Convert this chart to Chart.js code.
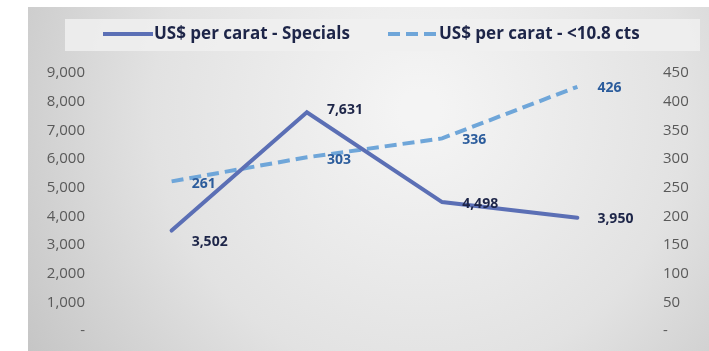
<!DOCTYPE html>
<html>
<head>
<meta charset="utf-8">
<script src="https://cdn.jsdelivr.net/npm/chart.js@4.4.1/dist/chart.umd.min.js"></script>
<style>
html,body{margin:0;padding:0;background:#ffffff;}
#wrap{width:709px;height:351px;position:relative;}
</style>
</head>
<body>
<div id="wrap"><canvas id="c" width="709" height="351"></canvas></div>
<script>
const categories = ["1", "2", "3", "4"];
const specialsValues = [3502, 7631, 4498, 3950];
const smallValues = [261, 303, 336, 426];
const leftTicks = [0, 1000, 2000, 3000, 4000, 5000, 6000, 7000, 8000, 9000];
const rightTicks = [0, 50, 100, 150, 200, 250, 300, 350, 400, 450];
const seriesNames = ["US$ per carat - Specials", "US$ per carat - <10.8 cts"];

const fmt = v => v === 0 ? "-" : v.toLocaleString("en-US");

const bgPlugin = {
  id: "bg",
  beforeDraw(chart) {
    const ctx = chart.ctx;
    ctx.save();
    const g = ctx.createRadialGradient(420, 110, 20, 420, 110, 470);
    g.addColorStop(0, "#f4f4f4");
    g.addColorStop(0.55, "#e2e2e2");
    g.addColorStop(1, "#c4c4c4");
    ctx.fillStyle = g;
    ctx.fillRect(28, 7, 681, 344);
    ctx.fillStyle = "rgba(240,240,240,0.85)";
    ctx.fillRect(65, 19, 635, 32);
    ctx.restore();
  },
  afterDraw(chart) {
    const ctx = chart.ctx;
    ctx.save();
    const items = [
      {x: 103, text: seriesNames[0], color: "#5b6fb5", dash: []},
      {x: 388, text: seriesNames[1], color: "#6fa6d9", dash: [12, 6]}
    ];
    ctx.font = "bold 17px 'Open Sans', sans-serif";
    ctx.textBaseline = "middle";
    items.forEach(it => {
      ctx.strokeStyle = it.color;
      ctx.lineWidth = 4;
      ctx.setLineDash(it.dash);
      ctx.beginPath();
      ctx.moveTo(it.x, 34);
      ctx.lineTo(it.x + 50, 34);
      ctx.stroke();
      ctx.setLineDash([]);
      ctx.fillStyle = "#1d2548";
      ctx.textAlign = "left";
      ctx.fillText(it.text, it.x + 51, 34);
    });
    const cfgs = [
      {idx: 0, color: "#1d2548", offs: [11, -2, 2, 1]},
      {idx: 1, color: "#2b5c9c", offs: [3, 3, 2, 1]}
    ];
    ctx.font = "bold 14px 'Open Sans', sans-serif";
    cfgs.forEach(c => {
      const meta = chart.getDatasetMeta(c.idx);
      const data = chart.data.datasets[c.idx].data;
      meta.data.forEach((pt, i) => {
        ctx.fillStyle = c.color;
        ctx.textAlign = "left";
        ctx.textBaseline = "middle";
        ctx.fillText(fmt(data[i]), pt.x + 20, pt.y + c.offs[i]);
      });
    });
    ctx.restore();
  }
};

new Chart(document.getElementById("c"), {
  type: "line",
  data: {
    labels: categories,
    datasets: [
      {
        label: seriesNames[0],
        data: specialsValues,
        yAxisID: "y",
        borderColor: "#5b6fb5",
        backgroundColor: "#5b6fb5",
        borderWidth: 4,
        pointRadius: 0,
        tension: 0,
        borderCapStyle: "round",
        order: 1
      },
      {
        label: seriesNames[1],
        data: smallValues,
        yAxisID: "y1",
        borderColor: "#6fa6d9",
        backgroundColor: "#6fa6d9",
        borderWidth: 4,
        borderDash: [12, 6],
        pointRadius: 0,
        tension: 0,
        order: 2
      }
    ]
  },
  options: {
    responsive: false,
    animation: false,
    devicePixelRatio: 1,
    layout: {padding: {top: 73, bottom: 20, left: 0, right: 0}},
    plugins: {legend: {display: false}, tooltip: {enabled: false}},
    scales: {
      x: {
        display: false,
        offset: true,
        grid: {display: false}
      },
      y: {
        position: "left",
        min: 0, max: 9000,
        afterBuildTicks(s) { s.ticks = leftTicks.map(v => ({value: v})); },
        afterFit(s) { s.width = 104; },
        grid: {display: false},
        border: {display: false},
        ticks: {
          padding: 11,
          color: "#595959",
          font: {family: "'Open Sans', sans-serif", size: 15},
          callback: v => fmt(v)
        }
      },
      y1: {
        position: "right",
        min: 0, max: 450,
        afterBuildTicks(s) { s.ticks = rightTicks.map(v => ({value: v})); },
        afterFit(s) { s.width = 64; },
        grid: {display: false},
        border: {display: false},
        ticks: {
          padding: 10,
          color: "#595959",
          font: {family: "'Open Sans', sans-serif", size: 15},
          callback: v => fmt(v)
        }
      }
    }
  },
  plugins: [bgPlugin]
});
</script>
</body>
</html>
